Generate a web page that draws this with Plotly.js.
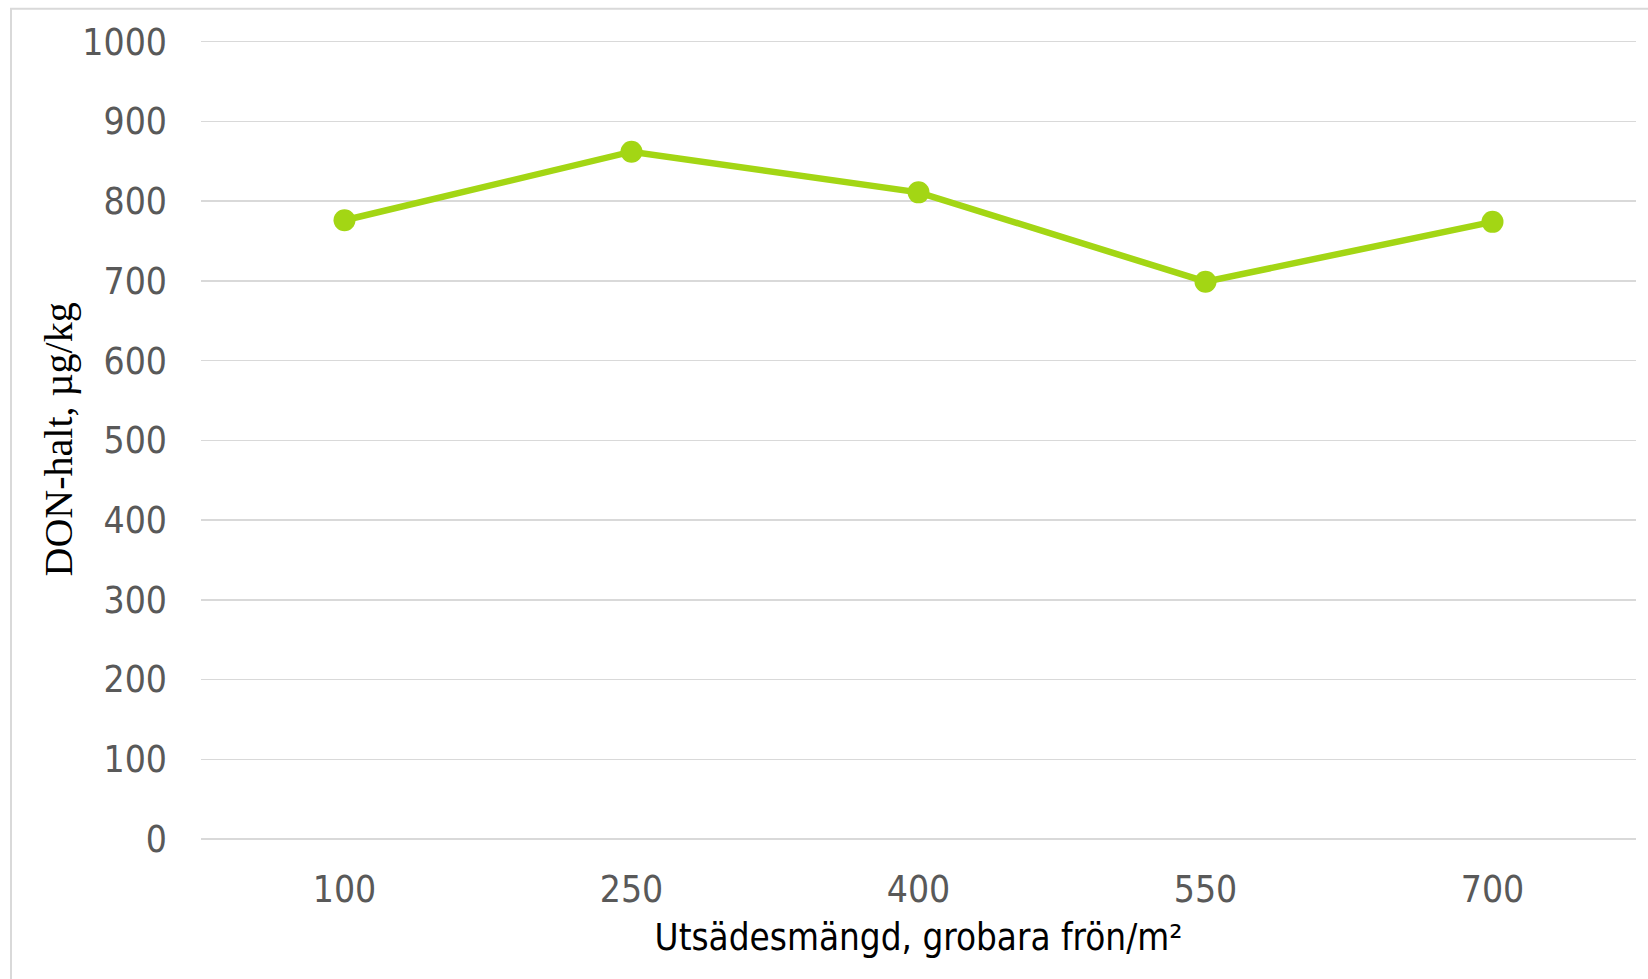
<!DOCTYPE html>
<html>
<head>
<meta charset="utf-8">
<script src="https://cdn.plot.ly/plotly-3.0.1.min.js"></script>
<style>
html, body { margin: 0; padding: 0; background: #ffffff; }
#chart { width: 1648px; height: 979px; }
</style>
</head>
<body>
<div id="chart"></div>
<script>
const categories = ["100", "250", "400", "550", "700"];
const donValues = [776, 862, 811, 699, 774];
const yTickValues = [0, 100, 200, 300, 400, 500, 600, 700, 800, 900, 1000];
const xTitle = "Utsädesmängd, grobara frön/m²";
const yTitle = "DON-halt, µg/kg";

const tickFont = { family: "DejaVu Sans Condensed, Liberation Sans, sans-serif", size: 37, color: "#595959" };

const trace = {
  type: "scatter",
  mode: "lines+markers",
  x: categories,
  y: donValues,
  line: { color: "#a3d614", width: 6.5 },
  marker: { color: "#a3d614", size: 22 },
  cliponaxis: false,
  showlegend: false,
  hoverinfo: "x+y"
};

const layout = {
  width: 1648,
  height: 979,
  paper_bgcolor: "#ffffff",
  plot_bgcolor: "#ffffff",
  margin: { l: 201, r: 12, t: 40, b: 140, pad: 0 },
  showlegend: false,
  xaxis: {
    type: "category",
    range: [-0.5, 4.5],
    showgrid: false,
    showline: false,
    zeroline: false,
    ticks: "",
    tickfont: tickFont,
    ticklabelstandoff: 25,
    automargin: false,
    title: {
      text: xTitle,
      font: { family: "DejaVu Sans Condensed, Liberation Sans, sans-serif", size: 36.5, color: "#000000" },
      standoff: 14
    }
  },
  yaxis: {
    range: [0, 1002.1],
    tickvals: yTickValues,
    ticktext: yTickValues.map(String),
    showgrid: true,
    gridcolor: "#d9d9d9",
    gridwidth: 1.5,
    zeroline: true,
    zerolinecolor: "#d9d9d9",
    zerolinewidth: 1.5,
    showline: false,
    ticks: "",
    tickfont: tickFont,
    ticklabelstandoff: 33,
    automargin: false
  },
  annotations: [
    {
      text: yTitle,
      xref: "paper", yref: "paper",
      x: -0.099, y: 0.5,
      xanchor: "center", yanchor: "middle",
      textangle: -90,
      showarrow: false,
      font: { family: "Liberation Serif, Times New Roman, serif", size: 40, color: "#000000" }
    }
  ],
  shapes: [
    {
      type: "rect",
      xref: "paper", yref: "paper",
      x0: -0.1324, x1: 1.03, y0: -0.2, y1: 1.039,
      line: { color: "#d9d9d9", width: 2 },
      fillcolor: "rgba(0,0,0,0)",
      layer: "below"
    }
  ]
};

Plotly.newPlot("chart", [trace], layout, { displayModeBar: false, staticPlot: true });
</script>
</body>
</html>
